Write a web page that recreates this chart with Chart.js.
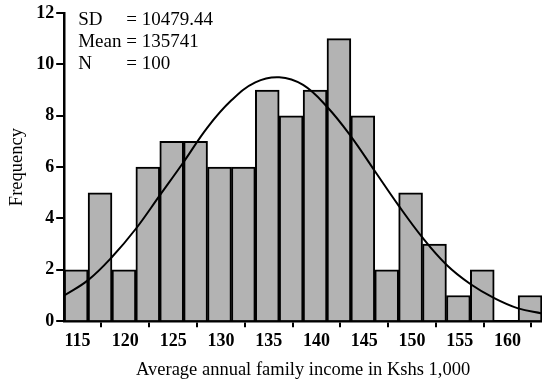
<!DOCTYPE html>
<html>
<head>
<meta charset="utf-8">
<script src="https://cdn.jsdelivr.net/npm/chart.js@4/dist/chart.umd.min.js"></script>
<style>
  html, body { margin: 0; padding: 0; background: #fff; }
  #wrap { width: 542px; height: 383px; }
</style>
</head>
<body>
<div id="wrap"><canvas id="histograma"></canvas></div>
<script>
// Centros de los intervalos (ancho 2.5, en miles de Kshs)
const binCenters = [114.85, 117.35, 119.85, 122.35, 124.85, 127.35, 129.85, 132.35, 134.85, 137.35,
                    139.85, 142.35, 144.85, 147.35, 149.85, 152.35, 154.85, 157.35, 159.85, 162.35];
// Frecuencias
const frequencies = [2, 5, 2, 6, 7, 7, 6, 6, 9, 8, 9, 11, 8, 2, 5, 3, 1, 2, 0, 1];

// Curva normal ajustada
const curveX = [113.6, 116.1, 118.6, 121.1, 123.6, 126.1, 128.6, 131.1, 133.6, 136.1, 138.6,
                141.1, 143.6, 146.1, 148.6, 151.1, 153.6, 156.1, 158.6, 161.1, 163.6];
const curveY = [1.0, 1.6, 2.5, 3.6, 4.9, 6.2, 7.55, 8.6, 9.3, 9.5, 9.2,
                8.35, 7.2, 5.85, 4.5, 3.25, 2.2, 1.45, 0.9, 0.5, 0.3];

const xTicks = [115, 120, 125, 130, 135, 140, 145, 150, 155, 160];
const yTicks = [0, 2, 4, 6, 8, 10, 12];

const statLabels = ['SD', 'Mean', 'N'];
const statValues = ['= 10479.44', '= 135741', '= 100'];

const serif = '"Liberation Serif", "Times New Roman", serif';

// Texto con estadísticas arriba a la izquierda
const statsPlugin = {
    id: 'stats',
    afterDraw(chart) {
        const ctx = chart.ctx;
        const area = chart.chartArea;
        ctx.save();
        ctx.fillStyle = '#000';
        ctx.font = '19px ' + serif;
        ctx.textBaseline = 'middle';
        statLabels.forEach((lab, i) => {
            const y = area.top + 7 + i * 22;
            ctx.fillText(lab, area.left + 14, y);
            ctx.fillText(statValues[i], area.left + 62, y);
        });
        ctx.restore();
    }
};

const ctx = document.getElementById('histograma').getContext('2d');
new Chart(ctx, {
    type: 'bar',
    data: {
        datasets: [
            {
                type: 'line',
                data: curveX.map((x, i) => ({ x: x, y: curveY[i] })),
                borderColor: '#000',
                borderWidth: 2,
                pointRadius: 0,
                tension: 0.4,
                fill: false,
                order: 0
            },
            {
                type: 'bar',
                data: binCenters.map((x, i) => ({ x: x, y: frequencies[i] })),
                backgroundColor: '#b3b3b3',
                borderColor: '#000',
                borderWidth: 2,
                barPercentage: 1.0,
                categoryPercentage: 1.0,
                order: 1
            }
        ]
    },
    options: {
        responsive: true,
        maintainAspectRatio: false,
        animation: false,
        layout: { padding: { top: 13, right: 0, left: 6, bottom: 2 } },
        plugins: {
            legend: { display: false },
            tooltip: { enabled: false }
        },
        scales: {
            x: {
                type: 'linear',
                min: 113.6,
                max: 163.6,
                offset: false,
                afterBuildTicks: scale => { scale.ticks = xTicks.map(v => ({ value: v })); },
                grid: { drawOnChartArea: false, drawTicks: true, tickLength: 6, color: '#000', lineWidth: 2 },
                border: { color: '#000', width: 2.5 },
                ticks: { color: '#000', font: { family: serif, size: 18, weight: 'bold' }, padding: 3, maxRotation: 0 },
                title: {
                    display: true,
                    text: 'Average annual family income in Kshs 1,000',
                    color: '#000',
                    font: { family: serif, size: 18.5 },
                    padding: { top: 4, bottom: 0 }
                }
            },
            y: {
                min: 0,
                max: 12,
                afterBuildTicks: scale => { scale.ticks = yTicks.map(v => ({ value: v })); },
                grid: { drawOnChartArea: false, drawTicks: true, tickLength: 8, color: '#000', lineWidth: 2 },
                border: { color: '#000', width: 2.5 },
                ticks: { color: '#000', font: { family: serif, size: 18, weight: 'bold' }, padding: 2 },
                title: {
                    display: true,
                    text: 'Frequency',
                    color: '#000',
                    font: { family: serif, size: 18.5 },
                    padding: { top: 0, bottom: 6 }
                }
            }
        }
    },
    plugins: [statsPlugin]
});
</script>
</body>
</html>
